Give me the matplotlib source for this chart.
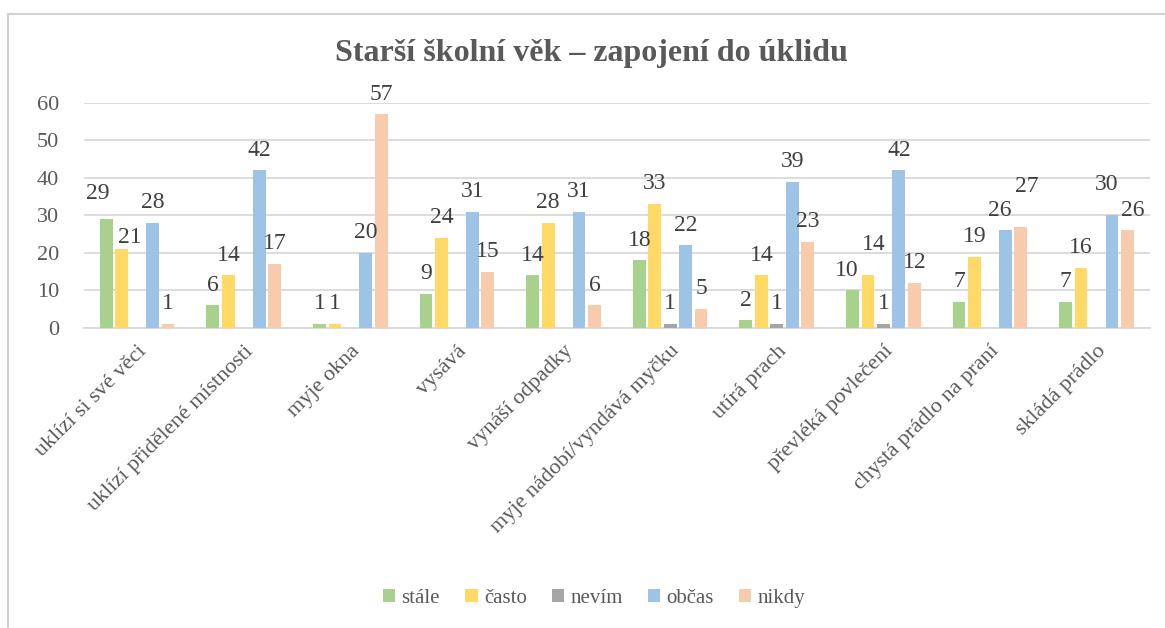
import matplotlib.pyplot as plt
import numpy as np
from matplotlib.patches import Rectangle

plt.rcParams['font.family'] = ['Liberation Serif', 'DejaVu Serif']

# Data
categories = ['uklízí si své věci', 'uklízí přidělené místnosti', 'myje okna', 'vysává',
              'vynáší odpadky', 'myje nádobí/vyndává myčku', 'utírá prach',
              'převléká povlečení', 'chystá prádlo na praní', 'skládá prádlo']
series_names = ['stále', 'často', 'nevím', 'občas', 'nikdy']
stale = [29, 6, 1, 9, 14, 18, 2, 10, 7, 7]
casto = [21, 14, 1, 24, 28, 33, 14, 14, 19, 16]
nevim = [0, 0, 0, 0, 0, 1, 1, 1, 0, 0]
obcas = [28, 42, 20, 31, 31, 22, 39, 42, 26, 30]
nikdy = [1, 17, 57, 15, 6, 5, 23, 12, 27, 26]
colors = ['#A9D18E', '#FFD966', '#A5A5A5', '#9DC3E6', '#F8CBAD']

text_col = '#595959'
grid_col = '#D9D9D9'

# small label nudges (points) where labels would collide, like Excel does
nudge = {(0, 0): (-6, 4), (0, 1): (6, -6), (8, 3): (-4, 0), (8, 4): (4, 14),
         (9, 3): (-4, 8), (9, 4): (4, 0), (7, 0): (-4, 0), (7, 1): (4, 8)}

fig = plt.figure(figsize=(11.65, 6.28), dpi=100)
ax = fig.add_axes([0.072, 0.478, 0.915, 0.358])

x = np.arange(len(categories))
step = 0.145
width = 0.12
all_series = [stale, casto, nevim, obcas, nikdy]
for i, (name, vals, col) in enumerate(zip(series_names, all_series, colors)):
    pos = x + (i - 2) * step
    ax.bar(pos, vals, width=width, color=col, label=name, zorder=3)
    for j, (p, v) in enumerate(zip(pos, vals)):
        if v > 0:
            dx, dy = nudge.get((j, i), (0, 0))
            ax.annotate(str(v), (p, v), xytext=(dx, 7 + dy), textcoords='offset points',
                        ha='center', va='bottom', fontsize=17, color='#404040', zorder=4)

ax.set_xlim(-0.5, len(categories) - 0.5)
ax.set_ylim(0, 60)
ax.set_yticks(range(0, 61, 10))
ax.yaxis.grid(True, color=grid_col, linewidth=1.3, zorder=0)
ax.set_axisbelow(True)
for s in ['top', 'right', 'left']:
    ax.spines[s].set_visible(False)
ax.spines['bottom'].set_color(grid_col)
ax.spines['bottom'].set_linewidth(1.3)
ax.tick_params(axis='both', length=0, labelsize=16, colors=text_col)
ax.tick_params(axis='y', pad=18)
ax.tick_params(axis='x', pad=10)
ax.set_xticks(x)
ax.set_xticklabels(categories, rotation=45, ha='right', rotation_mode='anchor', fontsize=16)
for lbl in ax.get_xticklabels():
    lbl.set_color(text_col)

fig.text(0.508, 0.915, 'Starší školní věk – zapojení do úklidu', ha='center', va='center',
         fontsize=23, fontweight='bold', color=text_col)

leg = fig.legend(loc='center', bbox_to_anchor=(0.51, 0.047), ncol=5, frameon=False,
                 fontsize=15, handlelength=0.6, handleheight=0.6, handletextpad=0.3,
                 columnspacing=1.2)
for t in leg.get_texts():
    t.set_color(text_col)

# outer chart border
fig.patches.append(Rectangle((0.007, -0.1), 1.1, 1.1 - 14 / 628, transform=fig.transFigure,
                             fill=False, edgecolor='#D0D0D0', linewidth=1.5))

plt.savefig('out.png', dpi=100)
